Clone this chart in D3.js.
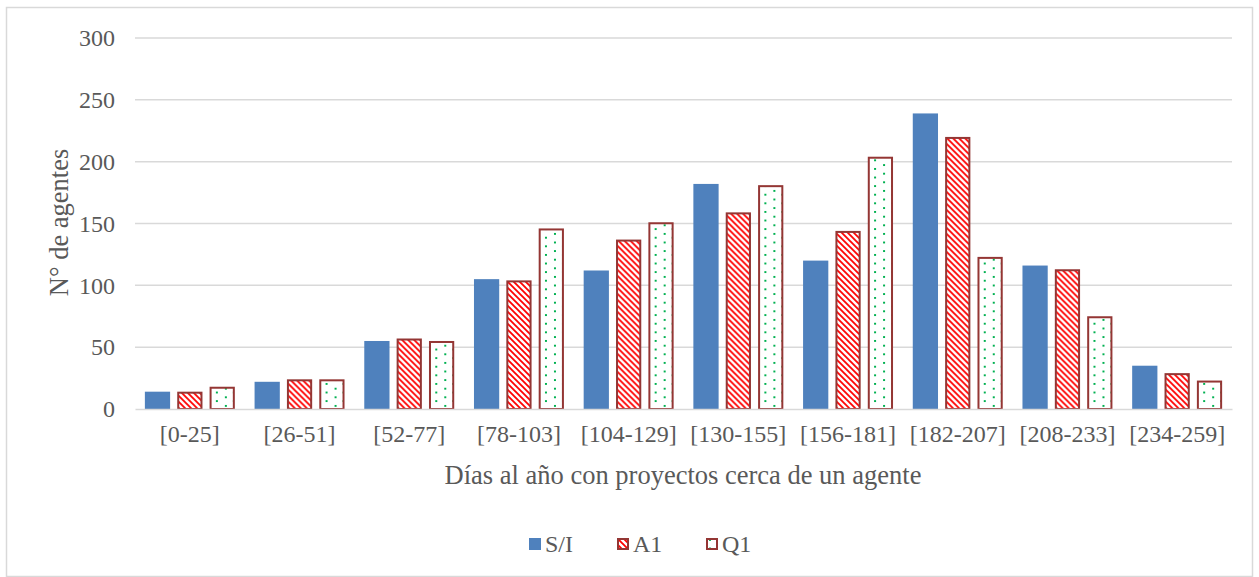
<!DOCTYPE html>
<html>
<head>
<meta charset="utf-8">
<script src="https://cdn.jsdelivr.net/npm/d3@7"></script>
<style>
  html, body { margin: 0; padding: 0; background: #fff; }
  svg { display: block; font-family: "Liberation Serif", "Times New Roman", serif; }
</style>
</head>
<body>
<svg id="chart" width="1259" height="577"></svg>
<script>
// Number of agents by range of days per year with projects nearby
const categories = ["[0-25]", "[26-51]", "[52-77]", "[78-103]", "[104-129]", "[130-155]", "[156-181]", "[182-207]", "[208-233]", "[234-259]"];
const seriesNames = ["S/I", "A1", "Q1"];
const valuesSI = [14, 22, 55, 105, 112, 182, 120, 239, 116, 35];
const valuesA1 = [14, 24, 57, 104, 137, 159, 144, 220, 113, 29];
const valuesQ1 = [18, 24, 55, 146, 151, 181, 204, 123, 75, 23];
const yTicks = [0, 50, 100, 150, 200, 250, 300];

const seriesValues = { "S/I": valuesSI, "A1": valuesA1, "Q1": valuesQ1 };

const svg = d3.select("#chart");
const W = 1259, H = 577;
const margin = { left: 135, right: 27, top: 38, bottom: 168 };
const plotW = W - margin.left - margin.right;
const plotH = H - margin.top - margin.bottom;
const textColor = "#595959";
const gridColor = "#d9d9d9";
const edgeColor = "#943634";
const fontFamily = "Liberation Serif, Times New Roman, serif";

// chart frame
svg.append("rect")
  .attr("x", 6.5).attr("y", 7.5)
  .attr("width", W - 13).attr("height", H - 8)
  .attr("fill", "#fff").attr("stroke", gridColor).attr("stroke-width", 1.5);

// fill patterns
const defs = svg.append("defs");
const stripe = defs.append("pattern")
  .attr("id", "stripeRed").attr("patternUnits", "userSpaceOnUse")
  .attr("width", 6).attr("height", 6);
stripe.append("rect").attr("width", 6).attr("height", 6).attr("fill", "#fff");
stripe.append("path")
  .attr("d", "M-2,-2 L8,8 M-2,4 L2,8 M4,-2 L8,2")
  .attr("stroke", "#ff0000").attr("stroke-width", 1.8);

const dots = defs.append("pattern")
  .attr("id", "dotsGreen").attr("patternUnits", "userSpaceOnUse")
  .attr("width", 17).attr("height", 8.6);
dots.append("rect").attr("width", 17).attr("height", 8.6).attr("fill", "#fff");
dots.append("rect").attr("x", 3).attr("y", 1).attr("width", 2.2).attr("height", 2.2)
  .attr("fill", "#00b050").attr("shape-rendering", "crispEdges");
dots.append("rect").attr("x", 11.5).attr("y", 5.3).attr("width", 2.2).attr("height", 2.2)
  .attr("fill", "#00b050").attr("shape-rendering", "crispEdges");

const styles = {
  "S/I": { fill: "#4f81bd", stroke: "none" },
  "A1": { fill: "url(#stripeRed)", stroke: edgeColor },
  "Q1": { fill: "url(#dotsGreen)", stroke: edgeColor }
};

const g = svg.append("g").attr("transform", `translate(${margin.left},${margin.top})`);

const x0 = d3.scaleBand().domain(categories).range([0, plotW]).paddingInner(0.18).paddingOuter(0.09);
const x1 = d3.scaleBand().domain(seriesNames).range([0, x0.bandwidth()]).paddingInner(0.22);
const y = d3.scaleLinear().domain([0, 300]).range([plotH, 0]);

// gridlines
g.append("g").selectAll("line").data(yTicks.filter(t => t > 0)).join("line")
  .attr("x1", 0).attr("x2", plotW)
  .attr("y1", d => y(d)).attr("y2", d => y(d))
  .attr("stroke", gridColor).attr("stroke-width", 1.5);

// y axis labels
const yAxis = g.append("g").call(d3.axisLeft(y).tickValues(yTicks).tickSize(0).tickPadding(20));
yAxis.select(".domain").remove();
yAxis.selectAll("text").attr("font-size", 24).attr("fill", textColor)
  .attr("font-family", fontFamily);

// bars
const groups = g.append("g").selectAll("g").data(categories).join("g")
  .attr("transform", d => `translate(${x0(d)},0)`);
groups.selectAll("rect")
  .data((c, i) => seriesNames.map(s => ({ s, v: seriesValues[s][i] })))
  .join("rect")
  .attr("x", d => x1(d.s) + (d.s === "S/I" ? 0 : 1))
  .attr("width", d => x1.bandwidth() - (d.s === "S/I" ? 0 : 2))
  .attr("y", d => y(d.v) + (d.s === "S/I" ? 0 : 1))
  .attr("height", d => plotH - y(d.v) - (d.s === "S/I" ? 0 : 1))
  .attr("fill", d => styles[d.s].fill)
  .attr("stroke", d => styles[d.s].stroke)
  .attr("stroke-width", 2);

// baseline and category labels
const xAxis = g.append("g").attr("transform", `translate(0,${plotH})`)
  .call(d3.axisBottom(x0).tickSize(0).tickPadding(16));
xAxis.select(".domain").attr("stroke", gridColor).attr("stroke-width", 1.5);
xAxis.selectAll("text").attr("font-size", 24).attr("fill", textColor)
  .attr("font-family", fontFamily);

// axis titles
svg.append("text")
  .attr("x", margin.left + plotW / 2 - 0.5).attr("y", 484)
  .attr("text-anchor", "middle").attr("font-size", 26.5).attr("fill", textColor)
  .text("Días al año con proyectos cerca de un agente");
svg.append("text")
  .attr("transform", `translate(68,${margin.top + plotH / 2 - 1}) rotate(-90)`)
  .attr("text-anchor", "middle").attr("font-size", 26.5).attr("fill", textColor)
  .text("N° de agentes");

// legend
const legendX = [529, 617, 706];
const legend = svg.append("g").selectAll("g").data(seriesNames).join("g")
  .attr("transform", (d, i) => `translate(${legendX[i]},538)`);
legend.append("rect")
  .attr("x", d => d === "S/I" ? 0 : 1).attr("y", d => d === "S/I" ? 0 : 1)
  .attr("width", d => d === "S/I" ? 12 : 10).attr("height", d => d === "S/I" ? 12 : 10)
  .attr("fill", d => styles[d].fill).attr("stroke", d => styles[d].stroke).attr("stroke-width", 2);
legend.append("text")
  .attr("x", 16).attr("y", 14)
  .attr("font-size", 24).attr("fill", textColor)
  .text(d => d);
</script>
</body>
</html>
